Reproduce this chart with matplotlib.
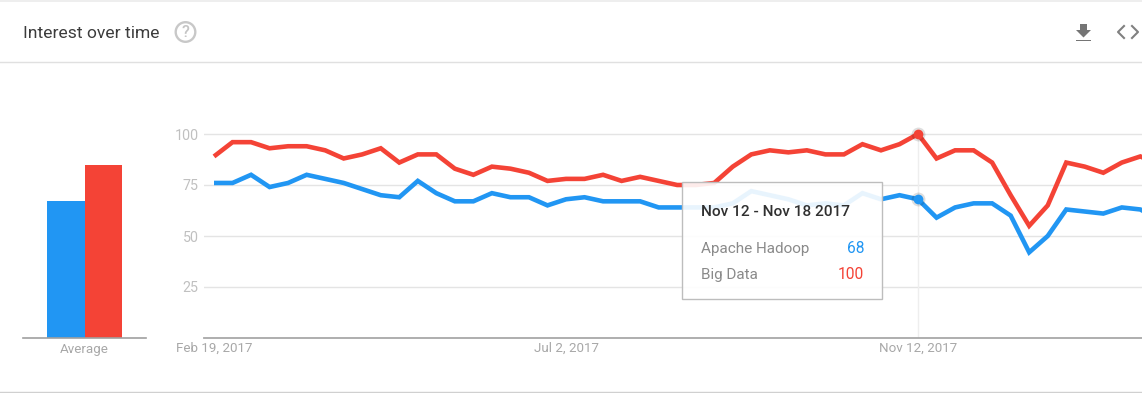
import matplotlib
matplotlib.use("Agg")
import matplotlib.pyplot as plt
from matplotlib.patches import Rectangle, Circle, Polygon

plt.rcParams['font.family'] = ['Roboto', 'DejaVu Sans']

W, H = 1142, 393
BLUE = '#2196f3'
RED = '#f44336'

title = "Interest over time"
series_names = ["Apache Hadoop", "Big Data"]
hadoop = [76, 76, 80, 74, 76, 80, 78, 76, 73, 70, 69, 77, 71, 67, 67, 71, 69, 69, 65, 68,
          69, 67, 67, 67, 64, 64, 64, 64, 66, 72, 70, 68, 65, 66, 65, 71, 68, 70, 68, 59,
          64, 66, 66, 60, 42, 50, 63, 62, 61, 64, 63, 58]
bigdata = [89, 96, 96, 93, 94, 94, 92, 88, 90, 93, 86, 90, 90, 83, 80, 84, 83, 81, 77, 78,
           78, 80, 77, 79, 77, 75, 75, 76, 84, 90, 92, 91, 92, 90, 90, 95, 92, 95, 100, 88,
           92, 92, 86, 70, 55, 65, 86, 84, 81, 86, 89, 85]
averages = [67, 84.5]
y_ticks = [25, 50, 75, 100]
date_ticks = [0, 19, 38]
date_labels = ["Feb 19, 2017", "Jul 2, 2017", "Nov 12, 2017"]
avg_label = "Average"
hover_index = 38
hover_title = "Nov 12 - Nov 18 2017"


def ax_px(fig, x0, y0, x1, y1, **kw):
    return fig.add_axes([x0 / W, 1 - y1 / H, (x1 - x0) / W, (y1 - y0) / H], **kw)


fig = plt.figure(figsize=(W / 100, H / 100), dpi=100, facecolor='white')

# main line chart
STEP = 18.527
PX_PER_UNIT = 2.04
ax = ax_px(fig, 204, 100, 1142, 338)
ax.set_xlim((204 - 214) / STEP, (1142 - 214) / STEP)
ax.set_ylim(0, 238 / PX_PER_UNIT)
ax.patch.set_alpha(0)
for s in ['top', 'right', 'left']:
    ax.spines[s].set_visible(False)
ax.spines['bottom'].set_color('#a8a8a8')
ax.spines['bottom'].set_linewidth(1.3)
ax.set_yticks(y_ticks)
ax.set_xticks(date_ticks, date_labels)
ax.tick_params(axis='both', length=0, labelcolor='#a8a8a8', labelsize=9.6)
ax.tick_params(axis='y', pad=3.8, labelcolor='#c0c0c0', labelsize=10.3)
ax.tick_params(axis='x', pad=3)
ax.grid(axis='y', color='#e4e4e4', linewidth=1)
ax.set_axisbelow(True)
ax.axvline(hover_index, ymin=0, ymax=100 * PX_PER_UNIT / 238, color='#eeeeee', linewidth=1, zorder=1)
xs = list(range(len(hadoop)))
ax.plot(xs, hadoop, color=BLUE, linewidth=3.3, solid_joinstyle='miter', solid_capstyle='butt', zorder=3)
ax.plot(xs, bigdata, color=RED, linewidth=3.3, solid_joinstyle='miter', solid_capstyle='butt', zorder=3)
for vals, c in ((hadoop, BLUE), (bigdata, RED)):
    ax.plot([hover_index], [vals[hover_index]], 'o', ms=10, color='#000000', alpha=0.13, mew=0, zorder=4, clip_on=False)
    ax.plot([hover_index], [vals[hover_index]], 'o', ms=7, color=c, mew=0, zorder=5, clip_on=False)

# average bars
axb = ax_px(fig, 23, 100, 146, 337.5)
axb.set_xlim((23 - 66) / 37.5, (146 - 66) / 37.5)
axb.set_ylim(0, 237.5 / PX_PER_UNIT)
axb.patch.set_alpha(0)
axb.bar([0, 1], averages, width=1.0, color=[BLUE, RED], linewidth=0)
for s in ['top', 'right', 'left']:
    axb.spines[s].set_visible(False)
axb.spines['bottom'].set_color('#a0a0a0')
axb.spines['bottom'].set_linewidth(1.2)
axb.set_yticks([])
axb.set_xticks([0.5], [avg_label])
axb.tick_params(axis='x', length=0, labelcolor='#a8a8a8', labelsize=9.6, pad=4)

# page chrome and tooltip in pixel coordinates
ov = fig.add_axes([0, 0, 1, 1], zorder=10)
ov.set_xlim(0, W)
ov.set_ylim(H, 0)
ov.axis('off')
ov.patch.set_alpha(0)
ov.add_patch(Rectangle((0, 0), W, 2, color='#eeeeee', lw=0))
ov.plot([0, W], [62.0, 62.0], color='#e0e0e0', lw=1)
ov.plot([0, W], [392.0, 392.0], color='#d0d0d0', lw=1)
ov.text(23, 33, title, fontsize=12.6, color='#3c3c3c', va='center', ha='left')
ov.add_patch(Circle((185.5, 32), 9.8, fill=False, ec='#c8c8c8', lw=1.7))
ov.text(185.5, 32.5, "?", fontsize=11.5, color='#c4c4c4', ha='center', va='center', fontweight='medium')
ov.add_patch(Polygon([[1080, 24], [1087, 24], [1087, 30], [1091, 30], [1083.5, 37.5], [1076, 30], [1080, 30]],
                     closed=True, color='#757575', lw=0))
ov.add_patch(Rectangle((1076, 39.5), 15, 1.6, color='#757575', lw=0))
ov.plot([1124, 1118, 1124], [26, 32, 38], color='#808080', lw=1.5)
ov.plot([1132, 1138, 1132], [26, 32, 38], color='#808080', lw=1.5)

ov.add_patch(Rectangle((682, 182), 200, 117, fc='white', alpha=0.9, ec='none'))
ov.add_patch(Rectangle((682, 182), 200, 117, fill=False, ec='#bdbdbd', lw=1))
ov.text(701, 211.5, hover_title, fontsize=11.05, color='#303030', ha='left', va='center', fontweight='medium')
ov.text(701, 248.5, series_names[0], fontsize=11, color='#8a8a8a', ha='left', va='center')
ov.text(701, 274.5, series_names[1], fontsize=11, color='#8a8a8a', ha='left', va='center')
ov.text(864, 248.5, str(hadoop[hover_index]), fontsize=11.2, color=BLUE, ha='right', va='center')
ov.text(864, 274.5, str(bigdata[hover_index]), fontsize=11.2, color=RED, ha='right', va='center')

fig.savefig('out.png', dpi=100, facecolor='white')
